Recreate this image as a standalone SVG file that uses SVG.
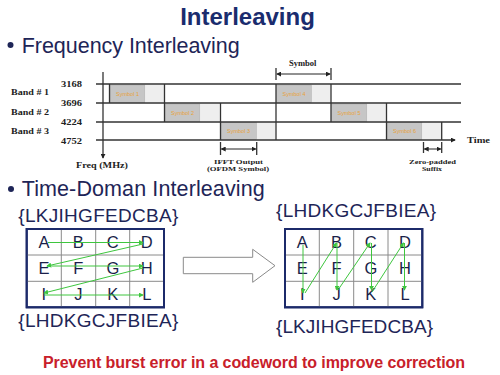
<svg xmlns="http://www.w3.org/2000/svg" width="500" height="375" viewBox="0 0 500 375">
<style>
.h{font-family:"Liberation Sans",Arial,sans-serif;fill:#1e2557}
.ser{font-family:"Liberation Serif","Times New Roman",serif;font-weight:bold;fill:#222;font-size:8.5px}
.ser2{font-family:"Liberation Serif","Times New Roman",serif;font-weight:bold;fill:#222;font-size:7px}
.ax{stroke:#333;stroke-width:1.3;fill:none}
.sym{fill:#c6c6c6;stroke:#aaa;stroke-width:0.5}
.suf{fill:#eeeeee}
.sl{font-family:"Liberation Sans",Arial,sans-serif;font-size:5.5px;fill:#e8a23a;text-anchor:middle}
.cell{font-family:"Liberation Sans",Arial,sans-serif;font-size:16.5px;fill:#1a1f4a;text-anchor:middle}
.outer{fill:#fff;stroke:#1c2a6a;stroke-width:2}
.inner{stroke:#8a8a8a;stroke-width:1}
.g{stroke:#3ec63e;stroke-width:1;fill:none;marker-end:url(#ah)}
</style>
<defs>
<marker id="ah" viewBox="0 0 6 6" refX="5" refY="3" markerWidth="5" markerHeight="5" orient="auto" markerUnits="userSpaceOnUse">
<path d="M0,0 L6,3 L0,6 Z" fill="#3ec63e"/>
</marker>
<marker id="bk" viewBox="0 0 6 6" refX="5" refY="3" markerWidth="5" markerHeight="5" orient="auto-start-reverse" markerUnits="userSpaceOnUse">
<path d="M0,0 L6,3 L0,6 Z" fill="#222"/>
</marker>
</defs>
<rect width="500" height="375" fill="#fff"/>

<g id="title"><text x="247.5" y="25" font-family="Liberation Sans,Arial,sans-serif" font-size="24" font-weight="bold" text-anchor="middle" fill="#1a2c6e">Interleaving</text></g>

<g id="freq-heading">
<circle cx="10.5" cy="45" r="3" fill="#1e2557"/>
<text x="21.7" y="52.5" class="h" font-size="21.5" textLength="218">Frequency Interleaving</text>
</g>

<g id="freq-diagram">
<rect class="sym" x="110" y="85" width="35" height="17.5"/><rect class="suf" x="145.5" y="85" width="18.5" height="17.5"/>
<rect class="sym" x="165" y="104" width="35" height="17.5"/><rect class="suf" x="200.5" y="104" width="19" height="17.5"/>
<rect class="sym" x="221" y="122.5" width="35.5" height="17"/><rect class="suf" x="257" y="122.5" width="18.5" height="17"/>
<rect class="sym" x="276.5" y="85" width="35" height="17.5"/><rect class="suf" x="312" y="85" width="18.5" height="17.5"/>
<rect class="sym" x="331.5" y="104" width="35.5" height="17.5"/><rect class="suf" x="367.5" y="104" width="18.5" height="17.5"/>
<rect class="sym" x="387" y="122.5" width="35" height="17"/><rect class="suf" x="422.5" y="122.5" width="19" height="17"/>
<text class="sl" x="127.5" y="95.5">Symbol 1</text>
<text class="sl" x="182.5" y="114.5">Symbol 2</text>
<text class="sl" x="238.5" y="133">Symbol 3</text>
<text class="sl" x="294" y="95.5">Symbol 4</text>
<text class="sl" x="349" y="114.5">Symbol 5</text>
<text class="sl" x="404.5" y="133">Symbol 6</text>
<line class="ax" x1="96" y1="84" x2="461" y2="84"/>
<line class="ax" x1="96" y1="103" x2="461" y2="103"/>
<line class="ax" x1="96" y1="122" x2="461" y2="122"/>
<line class="ax" x1="96" y1="140" x2="455" y2="140" marker-end="url(#bk)"/>
<line class="ax" x1="103" y1="72" x2="103" y2="158" marker-end="url(#bk)"/>
<line class="ax" x1="109.5" y1="84" x2="109.5" y2="103"/>
<line class="ax" x1="164.5" y1="84" x2="164.5" y2="122"/>
<line class="ax" x1="220.5" y1="103" x2="220.5" y2="140"/>
<line class="ax" x1="276" y1="84" x2="276" y2="140"/>
<line class="ax" x1="331" y1="84" x2="331" y2="122"/>
<line class="ax" x1="386.5" y1="103" x2="386.5" y2="140"/>
<line class="ax" x1="441.7" y1="122" x2="441.7" y2="140"/>
<line class="ax" x1="276" y1="68" x2="276" y2="80"/>
<line class="ax" x1="331" y1="68" x2="331" y2="80"/>
<line stroke="#222" stroke-width="1" x1="277" y1="74" x2="330" y2="74" marker-start="url(#bk)" marker-end="url(#bk)"/>
<line class="ax" x1="220.5" y1="142" x2="220.5" y2="155"/>
<line class="ax" x1="256.7" y1="142" x2="256.7" y2="155"/>
<line stroke="#222" stroke-width="1" x1="221.5" y1="149" x2="255.7" y2="149" marker-start="url(#bk)" marker-end="url(#bk)"/>
<line class="ax" x1="423.5" y1="142" x2="423.5" y2="153"/>
<line class="ax" x1="441.7" y1="142" x2="441.7" y2="153"/>
<line stroke="#222" stroke-width="1" x1="424.5" y1="149" x2="440.7" y2="149" marker-start="url(#bk)" marker-end="url(#bk)"/>
<text class="ser" x="61" y="87" textLength="21" lengthAdjust="spacingAndGlyphs">3168</text>
<text class="ser" x="61" y="106" textLength="21" lengthAdjust="spacingAndGlyphs">3696</text>
<text class="ser" x="61" y="124.5" textLength="21" lengthAdjust="spacingAndGlyphs">4224</text>
<text class="ser" x="61" y="143.5" textLength="21" lengthAdjust="spacingAndGlyphs">4752</text>
<text class="ser" x="11" y="94.5" textLength="38" lengthAdjust="spacingAndGlyphs">Band # 1</text>
<text class="ser" x="11" y="114.5" textLength="38" lengthAdjust="spacingAndGlyphs">Band # 2</text>
<text class="ser" x="11" y="134" textLength="38" lengthAdjust="spacingAndGlyphs">Band # 3</text>
<text class="ser" x="76" y="168" textLength="52" lengthAdjust="spacingAndGlyphs">Freq (MHz)</text>
<text class="ser" x="289" y="66" textLength="27.5" lengthAdjust="spacingAndGlyphs">Symbol</text>
<text class="ser" x="467" y="143" textLength="23" lengthAdjust="spacingAndGlyphs">Time</text>
<text class="ser2" x="214" y="163.5" textLength="49" lengthAdjust="spacingAndGlyphs">IFFT Output</text>
<text class="ser2" x="207" y="170.8" textLength="62" lengthAdjust="spacingAndGlyphs">(OFDM Symbol)</text>
<text class="ser2" x="409" y="163.5" textLength="47" lengthAdjust="spacingAndGlyphs">Zero-padded</text>
<text class="ser2" x="422" y="170.8" textLength="20" lengthAdjust="spacingAndGlyphs">Suffix</text>
</g>

<g id="time-heading">
<circle cx="11" cy="189" r="3" fill="#1e2557"/>
<text x="21.7" y="195.5" class="h" font-size="21.5" textLength="243">Time-Doman Interleaving</text>
</g>

<g id="left-seq-top"><text class="h" x="18.3" y="221.5" font-size="19" textLength="160">{LKJIHGFEDCBA}</text></g>
<g id="left-seq-bottom"><text class="h" x="18.3" y="326.7" font-size="19" textLength="160">{LHDKGCJFBIEA}</text></g>
<g id="right-seq-top"><text class="h" x="276" y="216.5" font-size="19" textLength="160">{LHDKGCJFBIEA}</text></g>
<g id="right-seq-bottom"><text class="h" x="276" y="332.5" font-size="19" textLength="157">{LKJIHGFEDCBA}</text></g>

<g id="left-grid">
<rect class="outer" x="26.7" y="229" width="137.3" height="78.3"/>
<line class="inner" x1="61.3" y1="229" x2="61.3" y2="307.3"/>
<line class="inner" x1="95.7" y1="229" x2="95.7" y2="307.3"/>
<line class="inner" x1="129.7" y1="229" x2="129.7" y2="307.3"/>
<line class="inner" x1="26.7" y1="255" x2="164" y2="255"/>
<line class="inner" x1="26.7" y1="281.3" x2="164" y2="281.3"/>
<rect x="26.7" y="229" width="137.3" height="78.3" fill="none" stroke="#1c2a6a" stroke-width="2"/>
<text class="cell" x="43.9" y="248">A</text><text class="cell" x="78.3" y="248">B</text><text class="cell" x="112.8" y="248">C</text><text class="cell" x="146.8" y="248">D</text>
<text class="cell" x="43.9" y="274">E</text><text class="cell" x="78.3" y="274">F</text><text class="cell" x="112.8" y="274">G</text><text class="cell" x="146.8" y="274">H</text>
<text class="cell" x="43.9" y="300">I</text><text class="cell" x="78.3" y="300">J</text><text class="cell" x="112.8" y="300">K</text><text class="cell" x="146.8" y="300">L</text>
</g>

<g id="right-grid">
<rect class="outer" x="285" y="229" width="137.3" height="78.3"/>
<line class="inner" x1="319.3" y1="229" x2="319.3" y2="307.3"/>
<line class="inner" x1="353.7" y1="229" x2="353.7" y2="307.3"/>
<line class="inner" x1="388" y1="229" x2="388" y2="307.3"/>
<line class="inner" x1="285" y1="255" x2="422.3" y2="255"/>
<line class="inner" x1="285" y1="281.3" x2="422.3" y2="281.3"/>
<rect x="285" y="229" width="137.3" height="78.3" fill="none" stroke="#1c2a6a" stroke-width="2"/>
<text class="cell" x="302.2" y="248">A</text><text class="cell" x="336.5" y="248">B</text><text class="cell" x="370.8" y="248">C</text><text class="cell" x="405" y="248">D</text>
<text class="cell" x="302.2" y="274">E</text><text class="cell" x="336.5" y="274">F</text><text class="cell" x="370.8" y="274">G</text><text class="cell" x="405" y="274">H</text>
<text class="cell" x="302.2" y="300">I</text><text class="cell" x="336.5" y="300">J</text><text class="cell" x="370.8" y="300">K</text><text class="cell" x="405" y="300">L</text>
</g>

<g id="connectors">
<line class="g" x1="48" y1="242.5" x2="143" y2="242.5"/>
<line class="g" x1="143" y1="244" x2="47" y2="266"/>
<line class="g" x1="47" y1="266" x2="143" y2="266"/>
<line class="g" x1="143" y1="268" x2="44" y2="293"/>
<line class="g" x1="44" y1="295" x2="143" y2="295"/>
<line class="g" x1="303" y1="245" x2="303" y2="293"/>
<line class="g" x1="305" y1="293" x2="336.5" y2="243"/>
<line class="g" x1="337" y1="243" x2="337" y2="290"/>
<line class="g" x1="338" y1="290" x2="370" y2="243"/>
<line class="g" x1="371.5" y1="243" x2="371.5" y2="290"/>
<line class="g" x1="372" y1="292" x2="403.5" y2="243"/>
<line class="g" x1="404.5" y1="243" x2="404.5" y2="290"/>
<path id="big-arrow" d="M183.3,257.3 H252.7 V249.3 L275,265.7 L252.7,282.3 V273.7 H183.3 Z" fill="#fff" stroke="#8a8a8a" stroke-width="1"/>
</g>

<g id="footer"><text x="254" y="368.3" font-family="Liberation Sans,Arial,sans-serif" font-size="16" font-weight="bold" fill="#c8202a" text-anchor="middle" textLength="422">Prevent burst error in a codeword to improve correction</text></g>
</svg>
